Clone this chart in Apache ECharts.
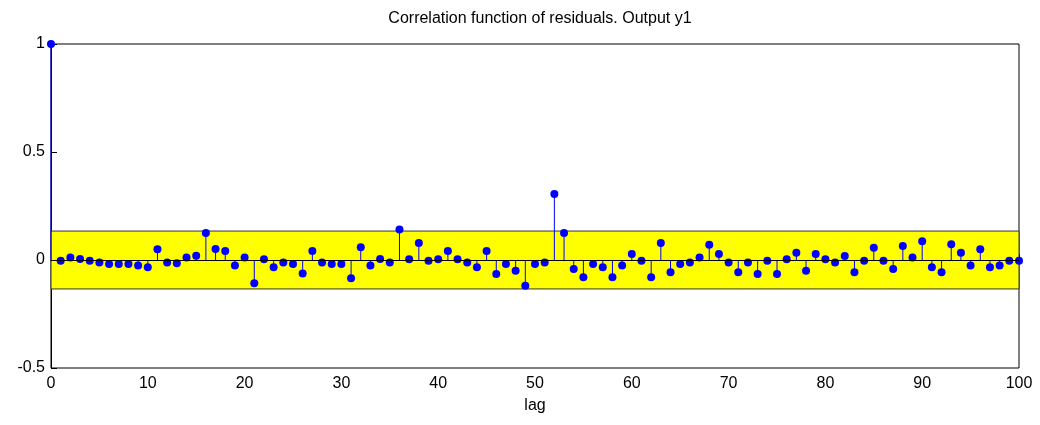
<!DOCTYPE html>
<html>
<head>
<meta charset="utf-8">
<script src="https://cdn.jsdelivr.net/npm/echarts@6/dist/echarts.min.js"></script>
<style>html,body{margin:0;padding:0;background:#fff}#c{width:1040px;height:425px}</style>
</head>
<body>
<div id="c"></div>
<script>
// residual autocorrelation, lags 0..100
var corr = [1,
  -0.003, 0.012, 0.005, -0.003, -0.011, -0.019, -0.019, -0.019, -0.026, -0.034,
  0.050, -0.011, -0.015, 0.012, 0.020, 0.125, 0.051, 0.042, -0.026, 0.012,
  -0.108, 0.003, -0.034, -0.011, -0.019, -0.062, 0.042, -0.011, -0.019, -0.019,
  -0.085, 0.059, -0.026, 0.005, -0.011, 0.141, 0.003, 0.079, -0.003, 0.003,
  0.042, 0.003, -0.011, -0.034, 0.042, -0.065, -0.019, -0.050, -0.119, -0.019,
  -0.011, 0.306, 0.125, -0.042, -0.080, -0.019, -0.034, -0.080, -0.026, 0.028,
  -0.003, -0.080, 0.079, -0.057, -0.019, -0.011, 0.012, 0.071, 0.028, -0.011,
  -0.057, -0.011, -0.065, -0.003, -0.065, 0.003, 0.034, -0.050, 0.028, 0.003,
  -0.011, 0.019, -0.057, -0.003, 0.057, -0.003, -0.042, 0.065, 0.011, 0.087,
  -0.034, -0.057, 0.073, 0.034, -0.026, 0.050, -0.034, -0.026, -0.003, -0.003];
var conf = 0.134; // confidence band half-width
var xTicks = [0, 10, 20, 30, 40, 50, 60, 70, 80, 90, 100];
var yTicks = [-0.5, 0, 0.5, 1];

var pts = corr.map(function(v, i) { return [i, v]; });

var myChart = echarts.init(document.getElementById('c'));
var font = {fontFamily: 'Liberation Sans, Arial', fontSize: 16, color: '#000'};
myChart.setOption({
  animation: false,
  title: {
    text: 'Correlation function of residuals. Output y1',
    left: 535, top: 6, textAlign: 'center',
    textStyle: {fontFamily: 'Liberation Sans, Arial', fontSize: 16, fontWeight: 'normal', color: '#000'}
  },
  grid: {left: 51, right: 21, top: 44, bottom: 57, show: true, borderColor: '#000', borderWidth: 1},
  xAxis: {
    type: 'value', min: 0, max: 100, interval: 10,
    name: 'lag', nameLocation: 'middle', nameGap: 30,
    nameTextStyle: font,
    axisLine: {lineStyle: {color: '#000'}},
    axisTick: {inside: true, length: 6, lineStyle: {color: '#000'}},
    axisLabel: font,
    splitLine: {show: false}
  },
  yAxis: {
    type: 'value', min: -0.5, max: 1, interval: 0.5,
    axisLine: {show: true, lineStyle: {color: '#000'}},
    axisTick: {inside: true, length: 6, lineStyle: {color: '#000'}},
    axisLabel: Object.assign({margin: 6, formatter: function(v) { return String(v); }}, font),
    splitLine: {show: false}
  },
  series: [{
    type: 'line', data: [], z: 1,
    markArea: {
      silent: true,
      itemStyle: {color: '#ffff00', borderColor: '#333', borderWidth: 1},
      data: [[{coord: [0, -conf]}, {coord: [100, conf]}]]
    },
    markLine: {
      silent: true, symbol: 'none', label: {show: false},
      lineStyle: {color: '#000', width: 1, type: 'solid'},
      data: [{yAxis: 0}]
    }
  }, {
    type: 'bar', data: pts, barWidth: 1, z: 3,
    itemStyle: {color: '#0000ff'}
  }, {
    type: 'scatter', data: pts, symbolSize: 8, z: 4,
    itemStyle: {color: '#0000ff', opacity: 1}
  }]
});
</script>
</body>
</html>
